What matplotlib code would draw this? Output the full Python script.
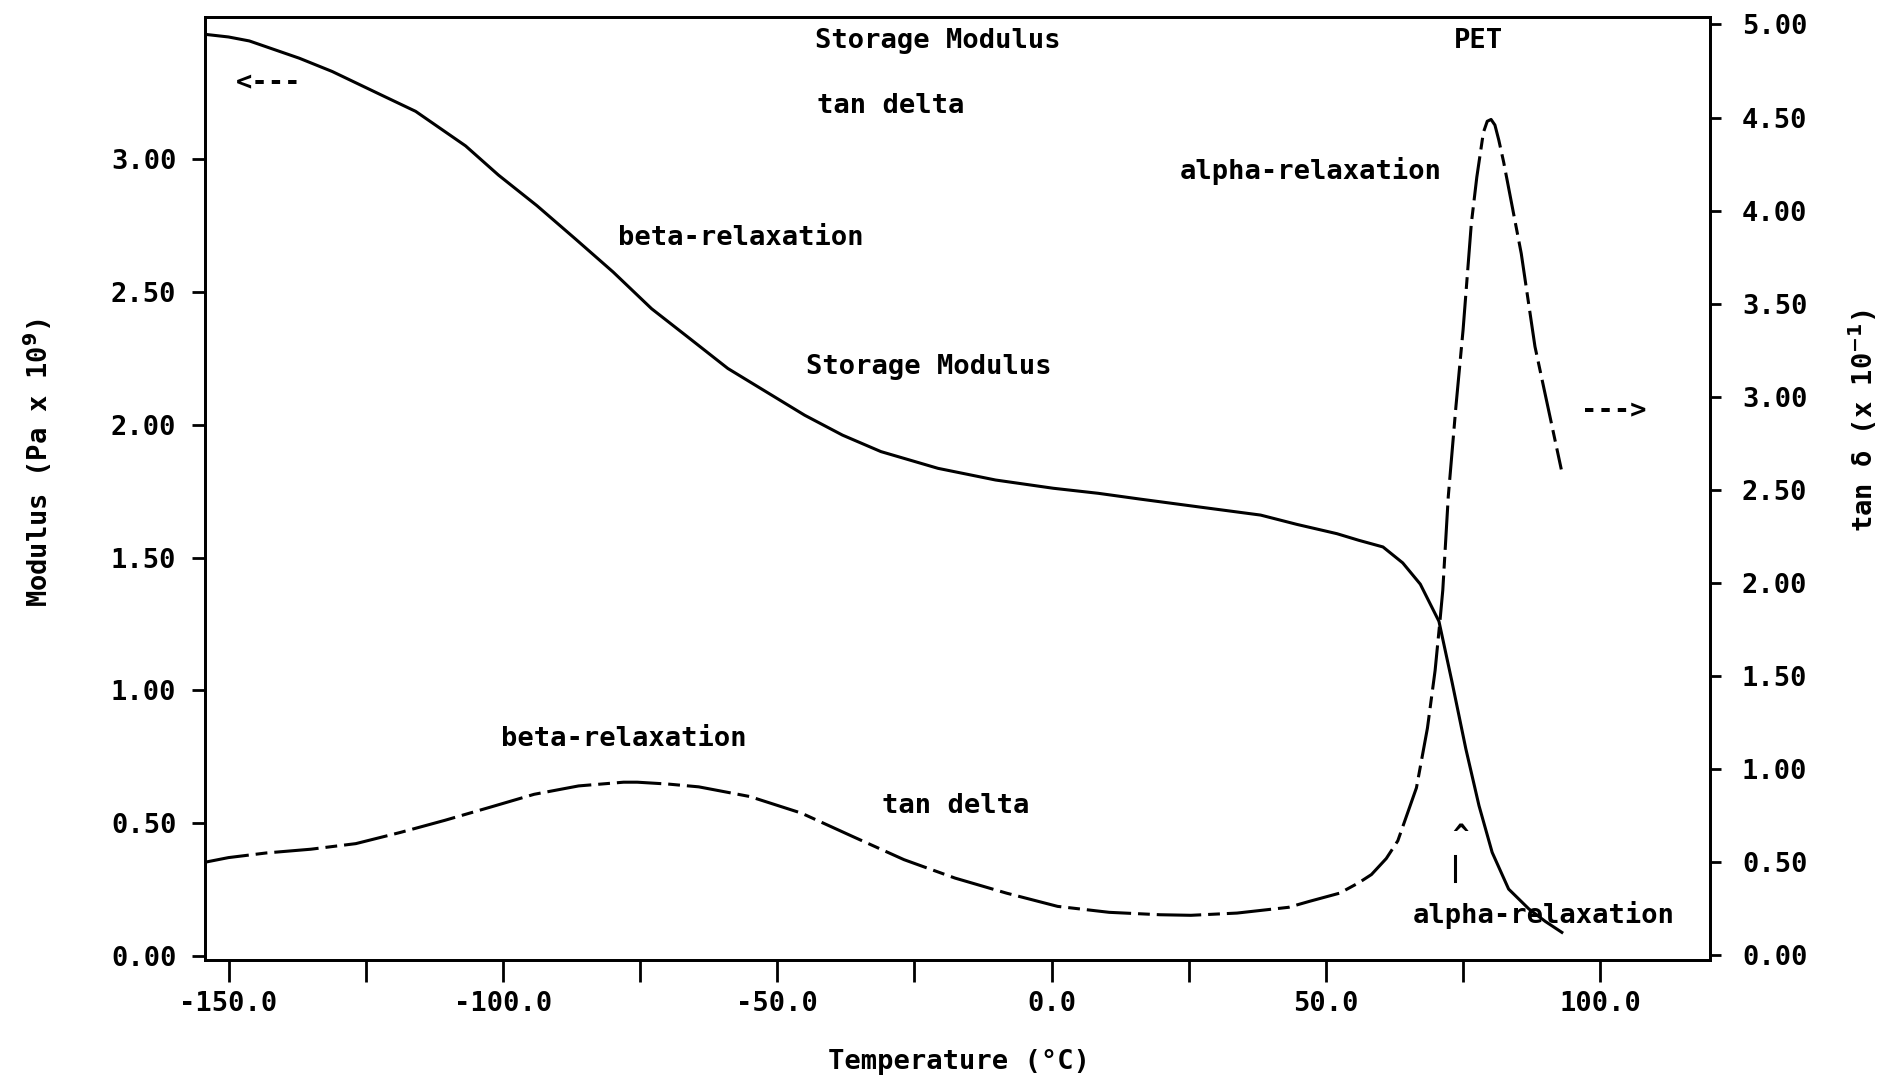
import matplotlib.pyplot as plt
from matplotlib.ticker import MultipleLocator, FuncFormatter

plt.rcParams['font.family'] = 'DejaVu Sans Mono'
plt.rcParams['font.weight'] = 'bold'
plt.rcParams['axes.unicode_minus'] = False
plt.rcParams['lines.scale_dashes'] = False

# storage modulus (Pa x 1e9), left axis
temp_modulus = [-154.3, -150.0, -146.2, -137.1, -131.1, -122.0, -115.9, -106.8,
                -100.8, -93.8, -86.8, -79.9, -72.9, -65.9, -59.0, -52.0, -45.0,
                -38.1, -31.1, -20.7, -10.2, 0.3, 8.5, 16.2, 27.1, 38.1, 44.7,
                52.0, 56.0, 60.4, 64.0, 67.2, 70.6, 73.0, 75.5, 77.9, 80.3,
                83.3, 87.0, 90.0, 93.0]
storage_modulus = [3.47, 3.46, 3.445, 3.38, 3.33, 3.24, 3.18, 3.05,
                   2.94, 2.825, 2.70, 2.575, 2.437, 2.324, 2.212, 2.124, 2.036,
                   1.961, 1.899, 1.836, 1.792, 1.761, 1.742, 1.72, 1.69, 1.66, 1.625,
                   1.59, 1.565, 1.54, 1.48, 1.40, 1.26, 1.03, 0.78, 0.566, 0.39,
                   0.252, 0.177, 0.13, 0.089]

# tan delta (x 1e-1), right axis
temp_tan = [-154.3, -150.0, -143.1, -135.0, -126.8, -118.7, -110.6, -102.4,
            -94.3, -86.2, -78.0, -75.5, -69.9, -64.3, -55.0, -45.6, -36.3,
            -26.9, -17.6, -8.2, 1.1, 10.5, 19.8, 25.4, 33.8, 43.2, 47.0,
            52.5, 56.0, 58.3, 61.0, 63.1, 66.5, 68.5, 69.9, 70.8, 71.3, 72.3,
            73.7, 75.0, 76.5, 77.5, 78.1, 78.7, 79.4, 80.1, 80.8, 81.5, 82.4,
            85.6, 88.1, 90.5, 92.9]
tan_delta = [0.50, 0.525, 0.55, 0.57, 0.60, 0.66, 0.725, 0.795,
             0.865, 0.91, 0.93, 0.93, 0.92, 0.905, 0.853, 0.764, 0.639,
             0.514, 0.415, 0.334, 0.263, 0.231, 0.218, 0.215, 0.227, 0.258, 0.29,
             0.334, 0.39, 0.434, 0.52, 0.615, 0.90, 1.22, 1.53, 1.801, 1.961, 2.464,
             2.95, 3.36, 3.93, 4.18, 4.30, 4.42, 4.48, 4.49, 4.46, 4.38, 4.26,
             3.77, 3.27, 2.94, 2.61]

FS = 19.5

fig = plt.figure(figsize=(18.87, 10.79), dpi=100)
ax = fig.add_axes([0.1086, 0.1103, 0.7976, 0.8739])
ax2 = ax.twinx()

ax.plot(temp_modulus, storage_modulus, color='black', lw=2.2)
line, = ax2.plot(temp_tan, tan_delta, color='black', lw=2.2)
line.set_dashes((32, 5, 8.5, 5))

ax.set_xlim(-154.3, 120)
ax.set_ylim(-0.015, 3.535)
ax2.set_ylim(-0.025, 5.04)

ax.xaxis.set_major_locator(MultipleLocator(25))
ax.xaxis.set_major_formatter(FuncFormatter(
    lambda v, p: f"{v:.1f}" if round(v) % 50 == 0 else ""))
ax.yaxis.set_major_formatter(FuncFormatter(lambda v, p: f"{v:.2f}"))
ax2.yaxis.set_major_formatter(FuncFormatter(lambda v, p: f"{v:.2f}"))
ax.set_yticks([0, 0.5, 1.0, 1.5, 2.0, 2.5, 3.0])
ax2.set_yticks([0, 0.5, 1.0, 1.5, 2.0, 2.5, 3.0, 3.5, 4.0, 4.5, 5.0])

ax.tick_params(axis='x', direction='out', length=16, width=2, pad=6, labelsize=FS)
ax.tick_params(axis='y', direction='out', length=9.5, width=2, pad=11, labelsize=FS)
ax2.tick_params(axis='y', direction='out', length=8, width=2, pad=15, labelsize=FS)
for a in (ax, ax2):
    for s in a.spines.values():
        s.set_linewidth(2.0)

fig.text(0.508, 0.016, "Temperature (°C)", ha='center', va='center', fontsize=FS)
fig.text(0.020, 0.571, "Modulus (Pa x 10$^{9}$)", rotation=90,
         ha='center', va='center', fontsize=FS)
fig.text(0.987, 0.610, "tan δ (x 10$^{-1}$)", rotation=90,
         ha='center', va='center', fontsize=FS)

notes = [
    ("Storage Modulus", -20.7, 3.445),
    ("tan delta", -29.4, 3.20),
    ("PET", 77.8, 3.445),
    ("alpha-relaxation", 47.3, 2.954),
    ("beta-relaxation", -56.7, 2.705),
    ("Storage Modulus", -22.4, 2.217),
    ("beta-relaxation", -77.9, 0.817),
    ("tan delta", -17.5, 0.566),
    ("alpha-relaxation", 89.7, 0.155),
    ("<---", -142.7, 3.29),
    ("--->", 102.5, 2.054),
    ("^", 74.6, 0.45),
]
for txt, x, y in notes:
    ax.text(x, y, txt, ha='center', va='center', fontsize=FS)
ax.plot([73.6, 73.6], [0.283, 0.377], color='black', lw=2.2)

fig.savefig('out.png', dpi=100)
